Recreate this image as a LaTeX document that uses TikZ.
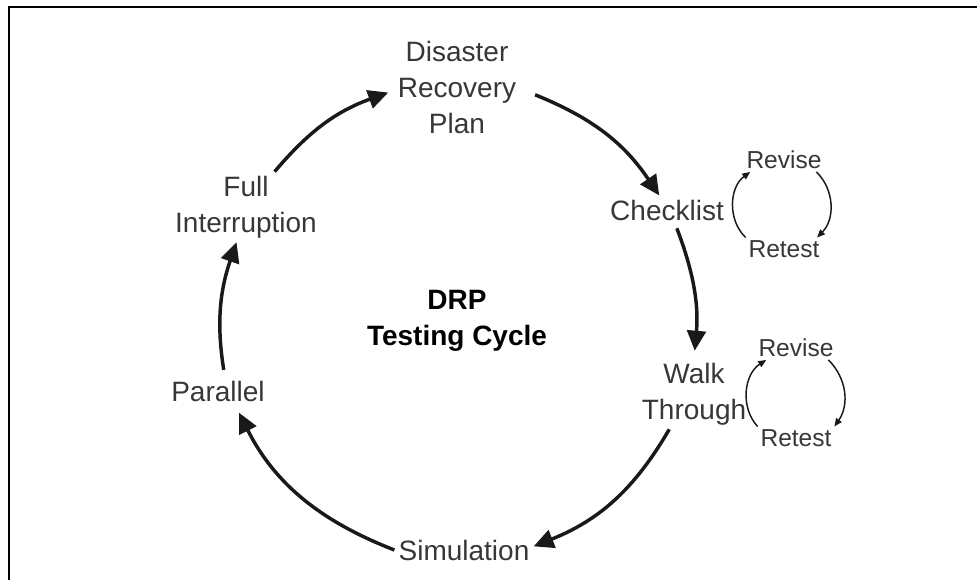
\documentclass[tikz,border=0pt]{standalone}
\usepackage{fontspec}
\setmainfont{Liberation Sans}
\usepackage{tikz}
\usetikzlibrary{arrows.meta}

\definecolor{txtgray}{RGB}{55,55,55}
\definecolor{arrgray}{RGB}{25,25,25}

\begin{document}
\begin{tikzpicture}[x=0.75pt, y=0.75pt,
        stagenode/.style={align=center, inner sep=3pt, text=txtgray, font=\fontsize{21}{27}\selectfont},
        looptext/.style={inner sep=2pt, text=txtgray, font=\fontsize{18.4}{22}\selectfont},
        bigarrow/.style={line width=2.6pt, draw=arrgray, -{Triangle[length=15pt, width=14pt]}},
        smallarrow/.style={line width=1.1pt, draw=arrgray, -{Triangle[length=6pt, width=5pt]}}]
        \useasboundingbox (0,0) rectangle (977,-580);
        \draw[line width=2pt] (9,-580) -- (9,-7) -- (977,-7);

        \node[stagenode] (plan) at (457,-87) {Disaster\\Recovery\\Plan};
        \node[stagenode] (check) at (667,-210) {Checklist};
        \node[stagenode] (walk) at (694,-394) {Walk\\Through};
        \node[stagenode] (sim) at (464,-550) {Simulation};
        \node[stagenode] (par) at (218,-391) {Parallel};
        \node[stagenode] (full) at (246,-207) {Full\\Interruption};
        \node[stagenode, text=black, font=\bfseries\fontsize{21}{27}\selectfont] (cycle) at (457,-321) {DRP\\Testing Cycle};

        \node[looptext] (rev1) at (784,-160) {Revise};
        \node[looptext] (ret1) at (784,-249) {Retest};
        \node[looptext] (rev2) at (796,-348) {Revise};
        \node[looptext] (ret2) at (796,-438) {Retest};

        \draw[bigarrow] (full.51) to[bend left=15] ([xshift=-4pt]plan.185);
        \draw[bigarrow] ([xshift=11pt]plan.-7) to[bend left=17] (check.118);
        \draw[bigarrow, shorten <=3pt, shorten >=6pt] (check.-60) to[bend left=13] (walk.north);
        \draw[bigarrow] (walk.235) to[bend left=19] (sim.3);
        \draw[bigarrow, shorten >=6pt] (sim.west) to[bend left=21] (par.-40);
        \draw[bigarrow, shorten <=5pt] (par.65) to[bend left=14] (full.255);

        \draw[smallarrow] (ret1.north west) to[bend left=50] ([xshift=5pt]rev1.south west);
        \draw[smallarrow] ([xshift=-6pt]rev1.south east) to[bend left=45] ([xshift=-4pt]ret1.north east);
        \draw[smallarrow] (ret2.north west) to[bend left=50] ([xshift=8pt]rev2.south west);
        \draw[smallarrow] ([xshift=-6pt]rev2.south east) to[bend left=40] (ret2.north east);
    \end{tikzpicture}
\end{document}
